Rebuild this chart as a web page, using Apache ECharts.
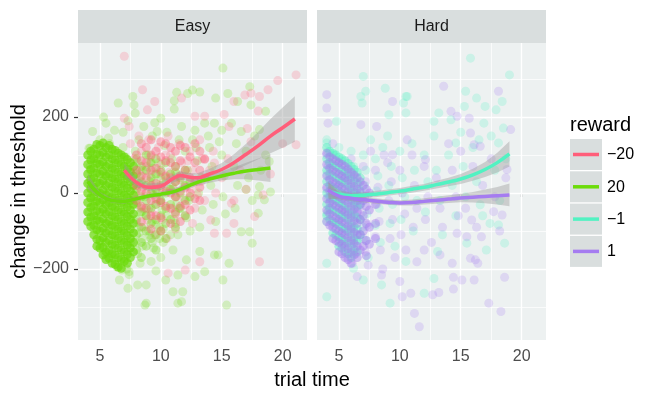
<!DOCTYPE html>
<html>
<head>
<meta charset="utf-8">
<script src="https://cdn.jsdelivr.net/npm/echarts@6/dist/echarts.min.js"></script>
<style>
  html, body { margin: 0; padding: 0; background: #fff; }
  #main { width: 664px; height: 399px; }
</style>
</head>
<body>
<div id="main"></div>
<script>
// ---- data ----
const panels = ['Easy', 'Hard']
const rewards = ['−20', '20', '−1', '1']
const rewardPanel = [0, 0, 1, 1]
const colors = ['#FF5E7A', '#6CDC0A', '#52F2C2', '#A57CF0']
const xTicks = [5, 10, 15, 20]
const xMinor = [7.5, 12.5, 17.5]
const yTicks = [-200, 0, 200]
const yMinor = [-300, -100, 100, 300]

// points, reward -20 (Easy)
const ptsEasyNeg20 = [
  [7.5,130],[7.8,90],[7.6,40],[7.9,-10],[8.2,150],[8.4,110],[8.3,60],[8.5,15],[8.4,-40],[8.6,-90],
  [9.0,140],[9.2,95],[9.1,50],[9.3,5],[9.2,-50],[9.5,-110],[9.8,120],[10.0,75],[10.2,30],[9.9,-20],
  [10.1,-70],[10.6,150],[10.8,100],[10.7,55],[11.0,10],[10.9,-40],[11.2,-95],[11.5,130],[11.7,80],[11.6,35],
  [11.9,-15],[12.0,-60],[12.4,110],[12.6,60],[12.5,10],[12.8,-40],[13.2,140],[13.4,90],[13.3,30],[13.6,-20],
  [14.0,60],[14.3,110],[14.5,0],[15.0,40],[15.5,90],[16.0,-20],[16.5,60],[17.0,10],[19.0,50],[20.0,130],
  [8.0,20],[8.8,70],[9.6,-30],[10.4,100],[11.3,-10],[12.2,85],[13.0,-5],[13.8,40],[8.9,-70],[10.5,-120],
  [18.1,-181],[13.2,-181],[12.0,-203],[10.6,-211],[15.4,-106],[14.4,-106],[16.0,-80],[17.7,-62],[14.1,-71],[12.6,-80],
  [18.4,-5],[15.8,-27],[7.0,360],[21.1,311],[19.6,296],[18.8,272],[18.1,254],[16.9,258],[17.4,263],[8.5,272],
  [8.9,219],[11.7,250],[12.8,202],[13.6,202],[15.2,207],[17.1,170],[17.4,135],[21.1,127],[7.0,197],[7.4,175],
  [16.0,241],[18.0,216],[9.5,241],[15.6,175],[13.6,88],[14.4,79]
]

// points, reward 20 (Easy)
const ptsEasyPos20 = [
  [4.1,118],[4.3,92],[4.2,71],[4.4,48],[4.1,28],[4.3,8],[4.2,-12],[4.4,-33],[4.1,-52],[4.3,-74],
  [4.5,-95],[4.2,60],[4.4,18],[4.6,-22],[4.5,3],[4.6,84],[4.7,-60],
  [5.0,140],[5.2,112],[4.9,88],[5.1,62],[5.3,40],[4.9,20],[5.2,-4],[5.0,-28],[5.3,-48],[4.9,-70],
  [5.1,-92],[5.3,-115],[5.0,-138],[5.4,-160],[5.2,75],[5.4,10],[5.5,-35],[5.6,-80],[5.5,50],
  [5.8,130],[6.0,105],[6.2,78],[5.9,55],[6.1,32],[6.3,8],[5.8,-15],[6.0,-40],[6.2,-62],[5.9,-85],
  [6.1,-108],[6.3,-130],[6.0,-152],[6.2,-175],[6.4,-195],[6.5,40],[6.6,-20],[6.5,-90],[6.7,90],
  [6.9,120],[7.1,95],[7.0,70],[7.2,45],[6.9,22],[7.1,-2],[7.3,-25],[7.0,-50],[7.2,-75],[6.9,-100],
  [7.1,-125],[7.3,-150],[7.0,-175],[7.2,-200],[7.4,-215],[7.5,60],[7.6,-60],[7.5,-130],
  [7.9,110],[8.1,80],[8.0,52],[8.2,25],[7.9,0],[8.1,-25],[8.3,-50],[8.0,-78],[8.2,-105],[7.9,-130],
  [8.1,-160],[8.3,-185],[8.5,-140],[8.6,-40],[8.5,60],
  [9.0,100],[9.3,65],[9.1,30],[9.4,-5],[9.0,-40],[9.3,-75],[9.1,-110],[9.4,-145],[9.2,-180],[9.8,80],
  [10.0,40],[9.7,0],[10.1,-45],[9.9,-90],[10.2,-130],[10.0,-170],[9.6,-205],
  [10.9,90],[11.2,55],[11.0,15],[11.3,-30],[11.1,-70],[11.4,-110],[11.0,-150],[12.0,110],[12.2,60],[11.9,20],
  [12.3,-20],[12.1,-65],[12.4,-100],[12.6,140],
  [13.0,85],[13.3,40],[13.1,0],[13.4,-45],[13.2,-90],[14.0,120],[14.2,70],[14.1,20],[14.3,-30],[14.5,-75],
  [15.0,100],[15.2,45],[15.1,-10],[15.3,-55],[16.0,70],[16.3,20],[16.1,-40],[17.0,110],[17.2,40],[17.5,-20],
  [18.2,60],[18.6,100],[18.0,-5],
  [6.2,165],[8.6,175],[9.3,150],[10.5,160],[11.7,175],[12.8,165],[13.9,150],[15.0,165],[16.2,130],[17.7,150],
  [10.3,125],[11.5,140],[12.9,120],[14.8,135],[6.9,160],[8.2,140],[9.5,185],[7.3,190],[5.3,200],
  [15.1,329],[7.7,254],[6.5,237],[7.8,232],[7.9,210],[11.3,265],[12.2,262],[12.6,271],[13.2,266],[11.1,243],
  [11.1,221],[14.5,250],[15.5,262],[17.3,280],[16.3,241],[17.4,232],[18.6,215],[5.5,184],[4.4,162],[4.2,118],
  [5.7,145],[10.0,197],[9.7,162],[13.6,184],[14.4,184],[15.8,184],[16.6,162],[18.1,167],[18.9,83],[18.1,17],
  [17.0,9],[8.7,-295],[8.8,-290],[11.4,-290],[11.7,-286],[11.0,-260],[11.8,-260],[15.4,-295],[15.1,-229],[7.3,-251],
  [6.6,-229],[8.1,-242],[8.8,-242],[10.4,-229],[11.4,-216],[12.8,-220],[13.6,-207],[15.6,-185],[17.5,-132],[13.2,-154],
  [14.4,-163],[14.7,-163],[12.1,-176],[17.3,-102],[16.6,-102],[18.0,-53],[18.5,-18],[19.0,3],[5.8,-168],[6.8,-203],
  [7.4,-207],
  [8.2,-90],[8.5,-120],[8.8,-60],[9.0,-100],[9.3,-130],[9.6,-85],[9.9,-120],[10.2,-95],[10.5,-60],[10.8,-110],
  [11.2,-80],[11.5,-40],[8.7,-10],[9.4,30],[10.0,-20],[10.7,10],[11.3,50],[8.3,40],[9.1,80],[9.8,50]
]

// points, reward -1 (Hard)
const ptsHardNeg1 = [
  [4.0,140],[4.1,110],[4.2,80],[4.0,50],[4.3,20],[4.1,-10],[4.2,-40],[4.4,65],[4.5,-20],[4.6,100],
  [5.0,120],[5.2,85],[4.9,55],[5.1,25],[5.3,-5],[5.0,-35],[5.2,-65],[5.4,-95],[5.1,-125],[5.5,40],[5.6,-50],
  [6.0,110],[6.2,70],[5.9,35],[6.1,0],[6.3,-30],[6.0,-60],[6.2,-95],[6.4,-130],[6.1,-160],[6.6,20],
  [7.0,100],[7.2,60],[7.1,20],[6.9,-20],[7.3,-55],[7.0,-90],[7.2,-125],[7.4,-170],[7.6,140],
  [8.0,90],[8.2,45],[8.1,5],[8.3,-40],[8.0,-85],[8.4,-130],[8.6,120],
  [9.0,150],[9.3,70],[9.1,20],[9.4,-30],[9.2,-80],[9.6,-140],[10.0,110],[10.2,40],[10.4,-10],[10.1,-70],[10.5,-180],
  [11.0,130],[11.2,60],[11.4,-20],[11.1,-100],[12.0,100],[12.3,30],[12.1,-50],[12.8,150],[13.0,60],[13.3,-20],
  [13.5,-110],[14.0,100],[14.3,20],[14.6,-60],[15.0,160],[15.2,70],[15.4,-10],[16.0,120],[16.3,30],[16.8,-60],
  [17.5,150],[17.8,60],[18.2,-20],[18.7,90],
  [15.8,355],[19.0,311],[7.0,307],[7.2,268],[8.8,276],[6.8,254],[6.9,237],[10.5,254],[10.6,254],[10.3,237],
  [9.1,206],[10.5,211],[15.4,268],[16.3,250],[17.0,228],[18.4,241],[17.9,219],[13.2,211],[14.2,193],[15.3,228],
  [16.9,184],[12.8,189],[18.5,171],[16.5,140],[18.1,132],[14.6,132],[4.8,189],[4.0,132],
  [4.0,-185],[4.0,-273],[7.0,-229],[8.5,-242],[9.2,-290],[12.0,-264],[12.8,-225],[18.6,-132],[17.1,-150],[17.4,-80],
  [18.1,-84],[16.6,-31],[15.5,-132],[13.1,-154],[6.2,-198],[4.0,-53],[4.0,-75]
]

// points, reward 1 (Hard)
const ptsHardPos1 = [
  [4.0,100],[4.1,70],[4.2,40],[4.0,10],[4.3,-20],[4.1,-50],[4.4,-80],[4.5,130],
  [5.0,80],[5.2,45],[4.9,15],[5.1,-15],[5.3,-45],[5.0,-75],[5.2,-105],[5.4,-135],[5.5,-10],[5.6,60],
  [6.0,90],[6.2,50],[5.9,15],[6.1,-20],[6.3,-55],[6.0,-90],[6.2,-125],[6.4,-160],[6.1,-185],[6.6,-40],
  [7.0,70],[7.2,30],[7.1,-10],[6.9,-50],[7.3,-85],[7.0,-120],[7.2,-155],[7.4,-190],[7.6,110],
  [8.0,60],[8.2,15],[8.1,-30],[8.3,-75],[8.0,-115],[8.4,-150],[8.6,-200],[8.7,100],
  [9.0,80],[9.3,30],[9.1,-20],[9.4,-70],[9.2,-120],[9.6,-170],[10.0,60],[10.2,0],[10.4,-55],[10.1,-110],[10.5,-150],
  [11.0,100],[11.2,20],[11.4,-40],[11.1,-90],[12.0,70],[12.3,-10],[12.1,-70],[12.6,-130],[13.0,40],[13.3,-40],
  [13.5,-90],[14.0,130],[14.3,60],[14.6,-10],[14.8,-60],[15.0,110],[15.4,-40],[16.0,70],[16.3,-90],[16.8,20],
  [17.5,90],[17.8,-10],[18.2,-100],[18.7,40],
  [13.6,281],[18.1,268],[4.0,259],[9.4,241],[4.0,224],[4.1,184],[6.8,180],[8.1,175],[14.2,215],[15.7,197],
  [14.7,202],[15.8,158],[16.1,127],[19.1,167],[18.8,62],[16.6,123],[12.1,88],[10.6,140],[9.4,101],
  [11.6,-352],[11.2,-317],[17.3,-290],[18.3,-312],[18.6,-222],[16.1,-229],[15.1,-229],[14.4,-222],[14.4,-253],[13.2,-262],
  [12.7,-268],[10.9,-264],[10.2,-273],[10.0,-233],[8.5,-216],[6.5,-220],[11.4,-181],[12.0,-150],[14.3,-185],[15.8,-172],
  [16.2,-176],[16.4,-185],[16.7,-115],[15.9,-71],[18.4,-58],[17.7,-49],[14.7,-106],[15.5,-115],[13.3,-163]
]

// dense parts of each cloud, one row per trial time: [x, y, y, ...]
const coreEasyNeg20 = [
  [8.0, 100, 60, 20, -20],
  [8.4, 130, 85, 45, 5, -35, -75],
  [8.8, 120, 80, 40, 0, -40],
  [9.2, 140, 100, 60, 20, -20, -60, -95],
  [9.6, 110, 65, 25, -15, -60],
  [10.0, 135, 95, 55, 15, -25, -65, -100],
  [10.4, 130, 85, 45, 5, -35],
  [10.8, 120, 80, 40, 0, -40, -80],
  [11.2, 110, 70, 30, -10, -55],
  [11.6, 125, 85, 45, 5, -35, -75],
  [12.0, 120, 60, 15, -30],
  [12.4, 95, 40, 0, -45],
  [12.8, 130, 80, 30, -15],
  [13.2, 110, 60, 15, -20],
  [13.6, 90, 40]
]
const coreEasyPos20 = [
  [4.0, 100, 75, 50, 25, 0, -25, -50, -75],
  [4.25, 110, 87, 62, 37, 12, -13, -38, -63, -88],
  [4.5, 115, 90, 65, 40, 15, -10, -35, -60, -85, -110],
  [4.75, 128, 103, 78, 53, 28, 3, -22, -47, -72, -97, -122, -140],
  [5.0, 125, 100, 75, 50, 25, 0, -25, -50, -75, -100, -125, -145],
  [5.25, 132, 107, 82, 57, 32, 7, -18, -43, -68, -93, -118, -143, -163],
  [5.5, 120, 95, 70, 45, 20, -5, -30, -55, -80, -105, -130, -155, -175],
  [5.75, 125, 100, 75, 50, 25, 0, -25, -50, -75, -100, -125, -150, -172],
  [6.0, 115, 90, 65, 40, 15, -10, -35, -60, -85, -110, -135, -160, -185],
  [6.25, 112, 87, 62, 37, 12, -13, -38, -63, -88, -113, -138, -163, -188],
  [6.5, 105, 80, 55, 30, 5, -20, -45, -70, -95, -120, -145, -170, -195],
  [6.75, 100, 75, 50, 25, 0, -25, -50, -75, -100, -125, -150, -175, -198],
  [7.0, 95, 70, 45, 20, -5, -30, -55, -80, -105, -130, -155, -180],
  [7.25, 88, 63, 38, 13, -12, -37, -62, -87, -112, -137, -162, -185],
  [7.5, 80, 55, 30, 5, -20, -45, -70, -95, -120, -145, -170],
  [7.75, 70, 45, 20, -5, -30, -55, -80, -105, -130, -155]
]
// middle of the 20 cloud, where it mixes with -20
const midEasyPos20 = [
  [8.0, 90, 50, 10, -30, -70, -110, -150],
  [8.4, 70, 30, -10, -50, -90, -130, -170],
  [8.8, 100, 60, 20, -20, -60, -100, -140],
  [9.2, 80, 40, 0, -40, -80, -120],
  [9.6, 90, 50, 10, -30, -70, -110, -150],
  [10.0, 60, 20, -20, -60, -100],
  [10.4, 80, 40, 0, -40, -80, -120],
  [10.8, 50, 10, -30, -70],
  [11.2, 70, 30, -10, -50, -90],
  [11.6, 40, 0, -40],
  [12.0, 60, 20, -20, -60],
  [12.4, 30, -10]
]
const coreHardNeg1 = [
  [4.0, 120, 90, 60, 30, 0, -30, -60],
  [4.25, 110, 80, 50, 20, -10, -40, -70],
  [4.5, 105, 75, 45, 15, -15, -45, -75, -105],
  [4.75, 100, 70, 40, 10, -20, -50, -80, -110],
  [5.0, 95, 65, 35, 5, -25, -55, -85, -115, -140],
  [5.25, 90, 60, 30, 0, -30, -60, -90, -120, -145],
  [5.5, 85, 55, 25, -5, -35, -65, -95, -125, -155],
  [5.75, 78, 48, 18, -12, -42, -72, -102, -132, -160],
  [6.0, 70, 40, 10, -20, -50, -80, -110, -140, -170],
  [6.25, 62, 32, 2, -28, -58, -88, -118, -148],
  [6.5, 55, 25, -5, -35, -65, -95, -125, -155],
  [6.75, 40, 5, -30, -70, -110]
]
const coreHardPos1 = [
  [4.0, 105, 75, 45, 15, -15, -45, -75],
  [4.25, 95, 65, 35, 5, -25, -55, -85],
  [4.5, 90, 60, 30, 0, -30, -60, -90, -120],
  [4.75, 85, 55, 25, -5, -35, -65, -95, -125],
  [5.0, 80, 50, 20, -10, -40, -70, -100, -130, -155],
  [5.25, 75, 45, 15, -15, -45, -75, -105, -135, -160],
  [5.5, 70, 40, 10, -20, -50, -80, -110, -140, -170],
  [5.75, 63, 33, 3, -27, -57, -87, -117, -147, -175],
  [6.0, 55, 25, -5, -35, -65, -95, -125, -155, -185],
  [6.25, 47, 17, -13, -43, -73, -103, -133, -163],
  [6.5, 40, 10, -20, -50, -80, -110, -140, -170],
  [6.75, 30, 0, -30, -70, -110, -150],
  [7.0, 20, -20, -60, -100, -140],
  [7.25, 10, -35, -80, -125, -165],
  [7.5, 0, -45, -90, -135],
  [8.0, -30, -80, -120]
]

// smooth fits (loess), with band half-widths
const fitXNeg20 = [7, 8, 9, 10, 11, 11.6, 12.3, 13, 14, 15, 16, 17, 18, 19, 20, 21]
const fitYNeg20 = [60, 28, 15, 18, 38, 46, 42, 40, 50, 62, 80, 102, 125, 150, 172, 195]
const fitSeNeg20 = [18, 12, 10, 10, 11, 11, 11, 12, 14, 17, 22, 28, 36, 45, 53, 60]

const fitXPos20 = [4, 5, 6, 7, 8, 9, 10, 11, 12, 13, 14, 15, 16, 17, 18, 19]
const fitYPos20 = [30, -5, -20, -22, -15, -8, -3, 3, 15, 28, 37, 45, 52, 58, 62, 66]
const fitSePos20 = [20, 8, 6, 6, 6, 6, 7, 8, 8, 9, 10, 12, 16, 22, 29, 37]

const fitXNeg1 = [4.2, 5, 6, 7, 8, 9, 10, 11, 12, 13, 14, 15, 16, 17, 18, 19]
const fitYNeg1 = [5, -3, -7, -6, -3, 1, 5, 10, 15, 22, 29, 37, 48, 62, 80, 103]
const fitSeNeg1 = [22, 10, 8, 8, 8, 8, 8, 9, 9, 10, 11, 13, 16, 20, 26, 33]

const fitXPos1 = [4.1, 5, 6, 7, 8, 9, 10, 11, 12, 13, 14, 15, 16, 17, 18, 19]
const fitYPos1 = [8, -8, -14, -18, -21, -24, -26, -25, -22, -19, -16, -13, -11, -9, -7, -5]
const fitSePos1 = [22, 9, 7, 7, 7, 7, 7, 8, 8, 9, 10, 11, 14, 18, 23, 30]

const points = [ptsEasyNeg20, ptsEasyPos20, ptsHardNeg1, ptsHardPos1]
const fits = [
  { x: fitXNeg20, y: fitYNeg20, se: fitSeNeg20 },
  { x: fitXPos20, y: fitYPos20, se: fitSePos20 },
  { x: fitXNeg1, y: fitYNeg1, se: fitSeNeg1 },
  { x: fitXPos1, y: fitYPos1, se: fitSePos1 }
]
// dense layers: [reward index, rows, opacity]; drawn in this order
const denseLayers = [
  [1, coreEasyPos20, 0.7],
  [1, midEasyPos20, 0.35],
  [0, coreEasyNeg20, 0.4],
  [2, coreHardNeg1, 0.45],
  [3, coreHardPos1, 0.45]
]
const pointOrder = [1, 0, 2, 3]

// ---- layout ----
const FONT = 'Liberation Sans, Arial, Helvetica, sans-serif'
const gridLeft = [78, 317]
const gridW = 229
const gridTop = 43
const gridH = 297
const stripTop = 10
const panelBg = '#EDF1F1'
const stripBg = '#D9DEDE'

let myChart = echarts.init(document.getElementById('main'))

const grids = panels.map((p, i) => ({
  left: gridLeft[i], top: gridTop, width: gridW, height: gridH,
  show: true, backgroundColor: panelBg, borderWidth: 0
}))

const xAxes = panels.map((p, i) => ({
  type: 'value', gridIndex: i, min: 3.2, max: 22,
  axisLine: { show: false },
  splitLine: { show: false },
  axisTick: { show: true, customValues: xTicks, length: 4, lineStyle: { color: '#333', width: 1.2 } },
  axisLabel: { customValues: xTicks, margin: 9, color: '#4D4D4D', fontSize: 16, fontFamily: FONT }
}))

const yAxes = panels.map((p, i) => ({
  type: 'value', gridIndex: i, min: -387, max: 395,
  axisLine: { show: false },
  splitLine: { show: false },
  axisTick: { show: i === 0, customValues: yTicks, length: 4, lineStyle: { color: '#333', width: 1.2 } },
  axisLabel: {
    show: i === 0, customValues: yTicks, margin: 9, color: '#4D4D4D', fontSize: 16, fontFamily: FONT,
    formatter: (v) => String(v).replace('-', '−')
  },
  name: i === 0 ? 'change in threshold' : '',
  nameLocation: 'middle', nameRotate: 90, nameGap: 45,
  nameTextStyle: { color: '#000', fontSize: 20, fontFamily: FONT }
}))

// grid lines as mark lines (major + minor)
function gridLines() {
  const d = []
  xTicks.forEach((v) => d.push({ xAxis: v, lineStyle: { width: 1.4 } }))
  xMinor.forEach((v) => d.push({ xAxis: v, lineStyle: { width: 0.7 } }))
  yTicks.forEach((v) => d.push({ yAxis: v, lineStyle: { width: 1.4 } }))
  yMinor.forEach((v) => d.push({ yAxis: v, lineStyle: { width: 0.7 } }))
  return {
    silent: true, symbol: ['none', 'none'], z: 1, animation: false,
    label: { show: false },
    lineStyle: { color: '#fff', type: 'solid' },
    emphasis: { disabled: true },
    data: d
  }
}

const series = []
// points first
pointOrder.forEach((k, n) => {
  const gi = rewardPanel[k]
  const s = {
    name: rewards[k], type: 'scatter', xAxisIndex: gi, yAxisIndex: gi,
    data: points[k], symbolSize: 9, z: 2, silent: true,
    itemStyle: { color: colors[k], opacity: 0.22 }
  }
  if (n === 0 || n === 2) s.markLine = gridLines()
  series.push(s)
})
denseLayers.forEach(([k, rows, op]) => {
  const gi = rewardPanel[k]
  series.push({
    name: rewards[k], type: 'scatter', xAxisIndex: gi, yAxisIndex: gi,
    data: rows.flatMap((row) => row.slice(1).map((y) => [row[0], y])),
    symbolSize: 9, z: 2, silent: true,
    itemStyle: { color: colors[k], opacity: op }
  })
})
// bands + lines
rewards.forEach((r, k) => {
  const gi = rewardPanel[k]
  const f = fits[k]
  series.push({
    type: 'custom', xAxisIndex: gi, yAxisIndex: gi, silent: true, z: 3,
    data: [[f.x[0], f.y[0]]],
    renderItem: function (params, api) {
      const up = f.x.map((x, i) => api.coord([x, f.y[i] + f.se[i]]))
      const lo = f.x.map((x, i) => api.coord([x, f.y[i] - f.se[i]])).reverse()
      return {
        type: 'polygon',
        shape: { points: up.concat(lo) },
        style: { fill: 'rgba(153,153,153,0.4)' }
      }
    }
  })
  series.push({
    name: r, type: 'line', xAxisIndex: gi, yAxisIndex: gi, silent: true, z: 4,
    data: f.x.map((x, i) => [x, f.y[i]]),
    smooth: 0.4, showSymbol: false,
    lineStyle: { color: colors[k], width: 3.5 }
  })
})

// strips, x title, legend
const graphic = []
panels.forEach((p, i) => {
  graphic.push({
    type: 'rect', left: gridLeft[i], top: stripTop, silent: true,
    shape: { width: gridW, height: gridTop - stripTop }, style: { fill: stripBg }
  })
  graphic.push({
    type: 'text', x: gridLeft[i] + gridW / 2, y: (stripTop + gridTop) / 2, silent: true,
    style: { text: p, fill: '#1A1A1A', font: '16px ' + FONT, textAlign: 'center', textVerticalAlign: 'middle' }
  })
})
graphic.push({
  type: 'text', x: (gridLeft[0] + gridLeft[1] + gridW) / 2, y: 380, silent: true,
  style: { text: 'trial time', fill: '#000', font: '20px ' + FONT, textAlign: 'center', textVerticalAlign: 'middle' }
})
graphic.push({
  type: 'text', x: 570, y: 125, silent: true,
  style: { text: 'reward', fill: '#000', font: '20px ' + FONT, textAlign: 'left', textVerticalAlign: 'middle' }
})
rewards.forEach((r, k) => {
  const top = 139 + k * 32.3
  graphic.push({
    type: 'rect', x: 570, y: top, silent: true,
    shape: { width: 32, height: 31 }, style: { fill: stripBg }
  })
  graphic.push({
    type: 'line', silent: true,
    shape: { x1: 573, y1: top + 15.5, x2: 599, y2: top + 15.5 },
    style: { stroke: colors[k], lineWidth: 3.5 }
  })
  graphic.push({
    type: 'text', x: 607, y: top + 16, silent: true,
    style: { text: r, fill: '#000', font: '16px ' + FONT, textAlign: 'left', textVerticalAlign: 'middle' }
  })
})

myChart.setOption({
  animation: false,
  grid: grids,
  xAxis: xAxes,
  yAxis: yAxes,
  series: series,
  graphic: graphic
})
</script>
</body>
</html>
